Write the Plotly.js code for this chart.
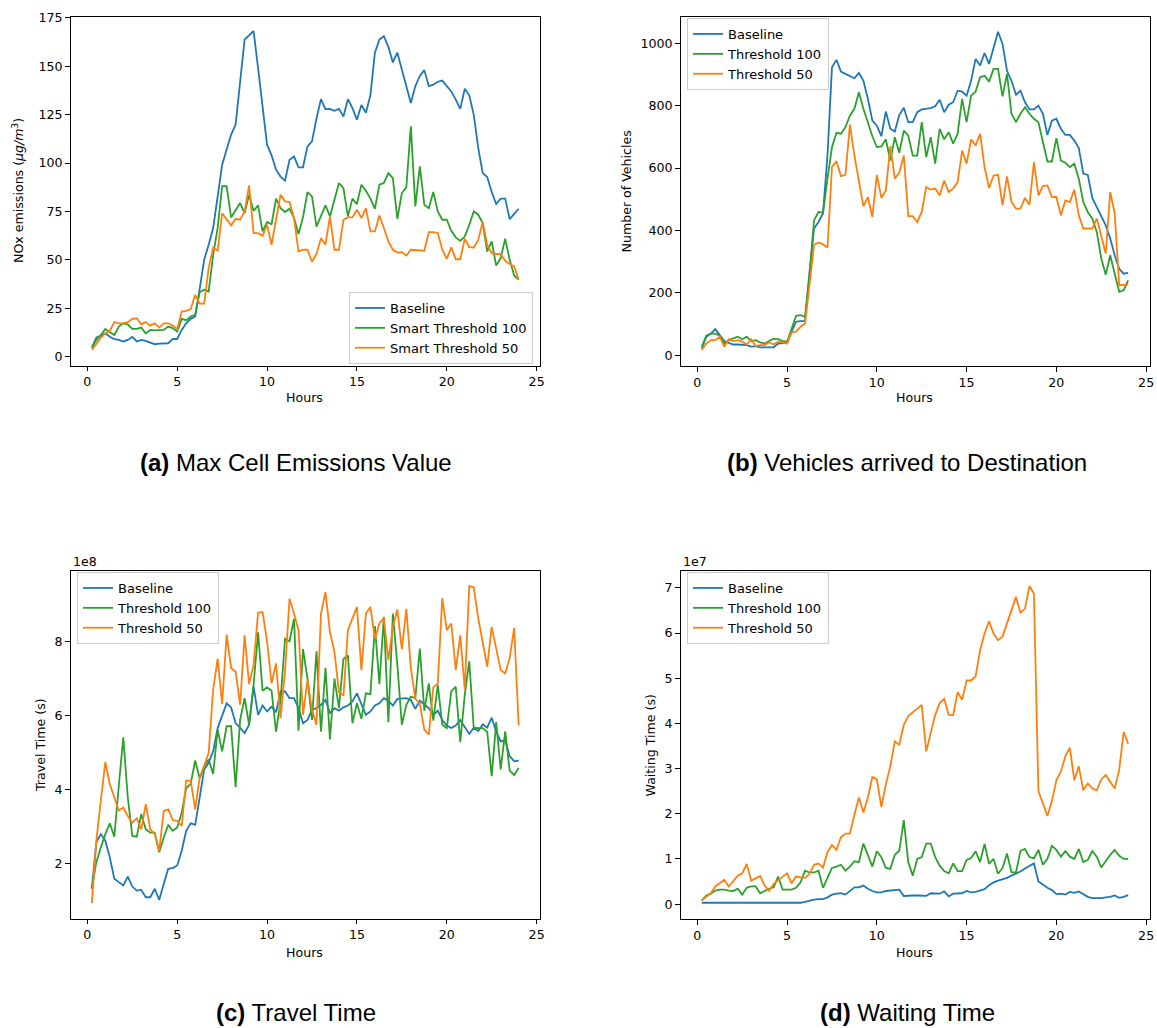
<!DOCTYPE html>
<html>
<head>
<meta charset="utf-8">
<script src="https://cdn.plot.ly/plotly-3.0.1.min.js"></script>
<style>
  html, body { margin: 0; padding: 0; background: #ffffff; }
  #chart { width: 1157px; height: 1028px; }
</style>
</head>
<body>
<div id="chart"></div>
<script>
// Sampling times (hours), every 15 minutes over one day
const hours = [
  0.25, 0.5, 0.75, 1, 1.25, 1.5, 1.75, 2,
  2.25, 2.5, 2.75, 3, 3.25, 3.5, 3.75, 4,
  4.25, 4.5, 4.75, 5, 5.25, 5.5, 5.75, 6,
  6.25, 6.5, 6.75, 7, 7.25, 7.5, 7.75, 8,
  8.25, 8.5, 8.75, 9, 9.25, 9.5, 9.75, 10,
  10.25, 10.5, 10.75, 11, 11.25, 11.5, 11.75, 12,
  12.25, 12.5, 12.75, 13, 13.25, 13.5, 13.75, 14,
  14.25, 14.5, 14.75, 15, 15.25, 15.5, 15.75, 16,
  16.25, 16.5, 16.75, 17, 17.25, 17.5, 17.75, 18,
  18.25, 18.5, 18.75, 19, 19.25, 19.5, 19.75, 20,
  20.25, 20.5, 20.75, 21, 21.25, 21.5, 21.75, 22,
  22.25, 22.5, 22.75, 23, 23.25, 23.5, 23.75, 24
];

// (a) Max cell NOx emissions (ug/m^3)
const emissionsBaseline = [
  4.7, 9.8, 10.9, 12.0, 10.3, 9.0, 8.6, 7.8,
  8.6, 10.2, 7.8, 8.6, 8.1, 7.4, 6.4, 6.7,
  6.7, 6.9, 9.1, 9.1, 13.8, 17.2, 19.5, 20.7,
  35, 50, 57.8, 66.4, 82.6, 99, 107, 114.7,
  119.8, 142, 163.8, 166, 168.2, 149, 130, 109.5,
  104, 96.6, 93, 90.9, 101.7, 103.4, 97.8, 97.8,
  108.6, 111.2, 123, 133, 127.8, 128, 127, 128,
  124, 133, 128.4, 122.4, 130, 126, 135, 157,
  163.8, 165.5, 160, 152, 157, 148, 139.7, 131,
  139.7, 145, 148, 139.7, 140.5, 142, 142.6, 139.7,
  137, 132.8, 128, 138.4, 135, 125, 107.8, 94.8,
  92.8, 85, 78.8, 81.6, 81.6, 71, 74, 76.4
];
const emissionsThr100 = [
  4.7, 8.6, 11.2, 14.3, 12.6, 11.2, 15.5, 17.2,
  16.7, 14.3, 14.3, 15, 12, 13.8, 13.6, 13.6,
  13.8, 15.5, 14.7, 12.9, 19.5, 18.8, 20.7, 21.6,
  33.3, 34.5, 33.6, 52.6, 66.4, 88, 88, 71.9,
  75.9, 79.3, 74.1, 83.6, 75.3, 78.1, 64.7, 69.5,
  68.4, 81.6, 76.7, 74.7, 76.4, 71.6, 63.3, 72,
  85, 82.8, 67.2, 72.4, 78.1, 72.4, 81, 89.7,
  87, 72.4, 81.6, 78.8, 88.8, 85.7, 81.6, 76.4,
  88.8, 89.7, 94.8, 92.2, 71.2, 84.5, 87.4, 119,
  77.6, 98.3, 78.4, 76.7, 85, 75, 70.7, 70.7,
  65, 61.6, 59.8, 62, 68, 75, 73.3, 69,
  54.3, 59.5, 47, 50.9, 60.9, 50, 41.9, 39.7
];
const emissionsThr50 = [
  3.4, 6.9, 9.8, 12, 13.3, 17.8, 17.2, 17.2,
  17.8, 19.5, 19.8, 16.7, 17.8, 16, 17.2, 15,
  17.2, 17.2, 16, 14.3, 23.3, 23.6, 24.5, 31.9,
  27.4, 27.4, 45.7, 56.4, 54.7, 74.1, 71.2, 67.8,
  71.2, 70.7, 75, 88.4, 63.8, 63.8, 62.4, 68.1,
  57.8, 69.8, 83.6, 80.2, 79.8, 71.6, 54.3, 55.2,
  55.2, 49, 53, 61.2, 57.8, 72.4, 55.2, 55.2,
  70.7, 71.9, 71.9, 75.9, 71.6, 76.7, 64.7, 64.7,
  72.9, 66.4, 59.5, 55.2, 53.8, 54, 52.2, 55.2,
  55, 54.7, 54.7, 64.3, 64.3, 63.8, 55.2, 50.5,
  56.4, 50.3, 50.3, 60.9, 56.6, 56.4, 60.3, 69.5,
  57.8, 53.4, 53, 53, 49.5, 47.8, 46.6, 39.7
];

// (b) Vehicles arrived to destination
const arrivedBaseline = [
  21, 59, 69, 83, 64, 45, 39, 34,
  34, 32, 32, 27, 29, 25, 25, 25,
  25, 37, 39, 40, 75, 107, 109, 109,
  267, 406, 427, 454, 640, 923, 947, 909,
  902, 894, 888, 905, 880, 822, 752, 736,
  702, 781, 726, 717, 770, 793, 747, 747,
  779, 788, 790, 792, 798, 819, 779, 803,
  811, 848, 845, 832, 880, 950, 929, 969,
  934, 982, 1037, 998, 912, 880, 835, 848,
  811, 788, 788, 800, 774, 706, 752, 758,
  726, 706, 706, 688, 664, 582, 578, 504,
  475, 443, 416, 374, 320, 277, 261, 264
];
const arrivedThr100 = [
  27, 62, 69, 69, 62, 37, 48, 53,
  59, 51, 59, 45, 48, 41, 37, 45,
  53, 51, 45, 43, 85, 126, 128, 123,
  256, 432, 459, 457, 566, 667, 713, 710,
  731, 768, 790, 843, 790, 745, 702, 667,
  669, 692, 624, 699, 649, 720, 704, 640,
  640, 747, 635, 699, 614, 726, 692, 715,
  678, 710, 822, 747, 832, 845, 891, 896,
  877, 918, 918, 830, 902, 774, 747, 774,
  795, 774, 758, 747, 688, 621, 621, 696,
  624, 617, 603, 614, 566, 491, 459, 438,
  395, 310, 258, 320, 261, 203, 208, 240
];
const arrivedThr50 = [
  16, 37, 48, 48, 59, 27, 51, 45,
  48, 43, 34, 51, 29, 32, 32, 41,
  34, 43, 41, 37, 73, 75, 91, 101,
  224, 354, 361, 355, 345, 603, 622, 574,
  578, 739, 640, 555, 477, 507, 443, 578,
  504, 528, 670, 566, 585, 640, 446, 446,
  427, 459, 539, 531, 534, 512, 560, 523,
  534, 555, 656, 614, 692, 672, 710, 603,
  536, 576, 578, 480, 573, 491, 470, 470,
  504, 482, 619, 512, 542, 544, 507, 507,
  448, 496, 491, 531, 448, 406, 406, 406,
  438, 384, 326, 523, 454, 224, 226, 226
];

// (c) Travel time, in units of 1e8 s
const travelBaseline = [
  1.31, 2.57, 2.79, 2.61, 2.16, 1.58, 1.49, 1.40,
  1.64, 1.37, 1.26, 1.28, 1.08, 1.08, 1.31, 1.01,
  1.44, 1.85, 1.87, 1.94, 2.34, 2.88, 3.08, 3.04,
  3.78, 4.54, 4.72, 5.03, 5.66, 6.02, 6.33, 6.22,
  5.79, 5.67, 5.52, 5.75, 6.78, 6.02, 6.27, 6.11,
  6.24, 6.09, 6.65, 6.65, 6.47, 6.47, 6.20, 5.79,
  5.88, 6.15, 6.20, 6.29, 6.42, 6.06, 6.20, 6.13,
  6.22, 6.27, 6.38, 6.60, 6.29, 6.02, 6.11, 6.27,
  6.33, 6.47, 6.40, 6.27, 6.45, 6.47, 6.47, 6.42,
  6.18, 6.40, 6.31, 6.20, 6.02, 6.13, 5.88, 5.73,
  5.66, 5.73, 5.88, 5.67, 5.50, 5.67, 5.58, 5.76,
  5.67, 5.94, 5.57, 5.30, 5.32, 4.90, 4.76, 4.78
];
const travelThr100 = [
  1.31, 2.03, 2.43, 2.79, 3.08, 2.72, 4.10, 5.41,
  3.78, 2.74, 2.72, 3.33, 2.92, 2.83, 2.83, 2.30,
  2.70, 3.04, 2.88, 2.97, 3.37, 4.03, 4.15, 4.78,
  4.30, 4.63, 4.81, 4.42, 5.62, 5.03, 5.71, 5.71,
  4.06, 5.88, 6.47, 5.75, 6.83, 8.25, 6.67, 6.76,
  6.67, 5.56, 6.40, 8.08, 8.01, 8.62, 5.59, 7.80,
  7.00, 5.88, 7.74, 5.56, 7.29, 5.35, 7.00, 6.20,
  7.53, 7.63, 5.79, 6.33, 5.91, 6.60, 6.58, 8.42,
  6.85, 8.67, 5.82, 8.76, 7.37, 5.75, 6.29, 6.51,
  6.47, 7.81, 6.13, 6.87, 5.86, 6.83, 5.75, 5.66,
  6.65, 6.78, 5.28, 6.56, 7.47, 5.67, 5.66, 5.66,
  5.56, 4.36, 5.82, 4.54, 5.57, 4.51, 4.39, 4.58
];
const travelThr50 = [
  0.92, 2.60, 3.70, 4.74, 4.14, 3.78, 3.43, 3.51,
  3.28, 3.10, 3.22, 2.92, 3.60, 2.92, 2.79, 2.34,
  3.42, 3.46, 3.17, 3.15, 3.01, 4.24, 4.24, 3.46,
  4.32, 4.63, 4.99, 6.69, 7.54, 6.31, 8.19, 7.28,
  7.19, 6.29, 8.17, 6.85, 7.37, 8.78, 8.80, 8.01,
  6.87, 7.41, 5.93, 7.20, 9.16, 8.76, 8.31, 6.02,
  6.96, 6.15, 5.75, 8.76, 9.34, 8.26, 7.72, 6.63,
  6.54, 8.31, 8.64, 8.94, 7.23, 8.76, 8.94, 8.08,
  8.49, 8.64, 7.50, 8.40, 8.87, 7.79, 8.89, 7.28,
  6.45, 6.33, 5.62, 5.48, 6.76, 6.87, 9.18, 8.31,
  8.49, 7.23, 8.17, 6.72, 9.50, 9.47, 8.64, 7.97,
  7.32, 8.40, 7.86, 7.23, 7.14, 7.56, 8.37, 5.73
];

// (d) Waiting time, in units of 1e7 s
const waitingBaseline = [
  0.03, 0.03, 0.03, 0.03, 0.03, 0.02, 0.02, 0.02,
  0.02, 0.02, 0.02, 0.02, 0.02, 0.02, 0.02, 0.02,
  0.02, 0.02, 0.02, 0.02, 0.03, 0.03, 0.03, 0.05,
  0.08, 0.10, 0.11, 0.11, 0.15, 0.21, 0.23, 0.24,
  0.21, 0.29, 0.37, 0.37, 0.41, 0.34, 0.29, 0.26,
  0.26, 0.29, 0.30, 0.32, 0.32, 0.18, 0.19, 0.19,
  0.19, 0.18, 0.18, 0.24, 0.23, 0.23, 0.28, 0.17,
  0.23, 0.24, 0.24, 0.29, 0.26, 0.27, 0.30, 0.33,
  0.42, 0.48, 0.52, 0.55, 0.58, 0.63, 0.67, 0.72,
  0.79, 0.85, 0.90, 0.50, 0.42, 0.36, 0.31, 0.22,
  0.23, 0.21, 0.27, 0.25, 0.28, 0.22, 0.16, 0.13,
  0.13, 0.13, 0.15, 0.16, 0.19, 0.14, 0.16, 0.20
];
const waitingThr100 = [
  0.08, 0.19, 0.23, 0.30, 0.32, 0.32, 0.30, 0.29,
  0.34, 0.21, 0.36, 0.39, 0.39, 0.24, 0.29, 0.34,
  0.37, 0.61, 0.32, 0.32, 0.32, 0.36, 0.48, 0.74,
  0.70, 0.70, 0.74, 0.36, 0.59, 0.80, 0.83, 0.87,
  0.74, 0.83, 0.95, 0.93, 1.34, 1.07, 0.83, 1.17,
  1.04, 0.80, 0.78, 1.09, 1.18, 1.86, 0.93, 0.63,
  1.00, 1.04, 1.34, 1.34, 1.04, 0.85, 0.73, 0.68,
  0.90, 0.73, 0.73, 0.98, 1.02, 1.17, 0.93, 1.33,
  0.89, 1.00, 0.67, 0.80, 1.12, 0.70, 0.70, 1.18,
  1.22, 1.04, 1.01, 1.20, 0.87, 1.00, 1.29, 1.20,
  1.05, 1.17, 1.05, 1.00, 1.22, 0.93, 0.98, 1.17,
  1.05, 0.81, 0.96, 1.09, 1.20, 1.07, 1.00, 1.00
];
const waitingThr50 = [
  0.08, 0.17, 0.24, 0.39, 0.46, 0.54, 0.39, 0.51,
  0.63, 0.68, 0.89, 0.52, 0.57, 0.62, 0.41, 0.29,
  0.45, 0.52, 0.59, 0.68, 0.46, 0.61, 0.59, 0.58,
  0.67, 0.87, 0.90, 0.81, 1.15, 1.31, 1.20, 1.48,
  1.56, 1.56, 1.98, 2.36, 2.03, 2.36, 2.81, 2.76,
  2.15, 2.65, 3.05, 3.60, 3.53, 3.97, 4.16, 4.25,
  4.33, 4.41, 3.38, 3.79, 4.19, 4.45, 4.54, 4.19,
  4.18, 4.69, 4.52, 4.95, 4.95, 5.04, 5.62, 5.99,
  6.26, 5.99, 5.84, 5.92, 6.21, 6.51, 6.80, 6.45,
  6.54, 7.04, 6.87, 2.50, 2.20, 1.95, 2.28, 2.74,
  2.93, 3.27, 3.46, 2.74, 3.05, 2.52, 2.67, 2.56,
  2.52, 2.76, 2.86, 2.71, 2.56, 2.98, 3.81, 3.55
];

const seriesNamesA = ['Baseline', 'Smart Threshold 100', 'Smart Threshold 50'];
const seriesNames = ['Baseline', 'Threshold 100', 'Threshold 50'];
const captions = [
  '<b>(a)</b> Max Cell Emissions Value',
  '<b>(b)</b> Vehicles arrived to Destination',
  '<b>(c)</b> Travel Time',
  '<b>(d)</b> Waiting Time'
];

const COLORS = ['#1f77b4', '#2ca02c', '#ff7f0e'];
const W = 1157, H = 1028;
const TICK_FONT = { family: 'DejaVu Sans', size: 12.6, color: '#000000' };
const LEGEND_FONT = { family: 'DejaVu Sans', size: 13, color: '#000000' };

// pixel box -> paper fractions
const xd = (l, r) => [l / W, r / W];
const yd = (top, bottom) => [1 - bottom / H, 1 - top / H];

function makeTraces(ys, names, axisSuffix, legendId) {
  return ys.map((y, i) => ({
    type: 'scatter',
    mode: 'lines',
    x: hours,
    y: y,
    name: names[i],
    line: { color: COLORS[i], width: 1.8 },
    xaxis: 'x' + axisSuffix,
    yaxis: 'y' + axisSuffix,
    legend: legendId,
    hoverinfo: 'x+y+name'
  }));
}

const traces = [
  ...makeTraces([emissionsBaseline, emissionsThr100, emissionsThr50], seriesNamesA, '', 'legend'),
  ...makeTraces([arrivedBaseline, arrivedThr100, arrivedThr50], seriesNames, '2', 'legend2'),
  ...makeTraces([travelBaseline, travelThr100, travelThr50], seriesNames, '3', 'legend3'),
  ...makeTraces([waitingBaseline, waitingThr100, waitingThr50], seriesNames, '4', 'legend4')
];

const axisStyle = {
  showline: true,
  mirror: true,
  linecolor: '#000000',
  linewidth: 1,
  ticks: 'outside',
  ticklen: 4.5,
  tickwidth: 1,
  tickcolor: '#000000',
  showgrid: false,
  zeroline: false,
  tickfont: TICK_FONT,
  fixedrange: true
};

const hourAxis = (domain, anchor) => Object.assign({}, axisStyle, {
  domain: domain,
  anchor: anchor,
  range: [-0.9375, 25.1875],
  tickmode: 'array',
  tickvals: [0, 5, 10, 15, 20, 25]
});

const legendStyle = (x, y, xanchor, yanchor) => ({
  x: x, y: y, xanchor: xanchor, yanchor: yanchor,
  bgcolor: 'rgba(255,255,255,0.8)',
  bordercolor: '#cccccc',
  borderwidth: 1,
  font: LEGEND_FONT,
  tracegroupgap: 0
});

const LEFT = xd(70.5, 540), RIGHT = xd(680.5, 1149.5);

function textNote(text, px, py, opts) {
  return Object.assign({
    text: text, xref: 'paper', yref: 'paper',
    x: px / W, y: 1 - py / H,
    showarrow: false,
    xanchor: 'center', yanchor: 'middle',
    font: TICK_FONT
  }, opts || {});
}

const CAPTION_FONT = { family: 'Liberation Sans', size: 24, color: '#000000' };
const bottomCaption = { font: CAPTION_FONT, yanchor: 'bottom', borderpad: 0 };

const annotations = [
  // axis titles
  textNote('Hours', 305, 398),
  textNote('Hours', 914, 398),
  textNote('Hours', 305, 952),
  textNote('Hours', 914, 952),
  textNote('NOx emissions (<i>μg/m</i><sup>3</sup>)', 18, 191, { textangle: -90 }),
  textNote('Number of Vehicles', 625.5, 191, { textangle: -90 }),
  textNote('Travel Time (s)', 40, 745, { textangle: -90 }),
  textNote('Waiting Time (s)', 649.5, 745, { textangle: -90 }),
  // scale factors
  textNote('1e8', 70.5, 561, { xanchor: 'left' }),
  textNote('1e7', 680.5, 561, { xanchor: 'left' }),
  // panel captions
  textNote(captions[0], 296, 463, { font: CAPTION_FONT }),
  textNote(captions[1], 907, 463, { font: CAPTION_FONT }),
  textNote(captions[2], 296, 1027, bottomCaption),
  textNote(captions[3], 907, 1027, bottomCaption)
];

const layout = {
  width: W,
  height: H,
  margin: { l: 0, r: 0, t: 0, b: 0, pad: 0 },
  paper_bgcolor: '#ffffff',
  plot_bgcolor: '#ffffff',
  font: TICK_FONT,
  showlegend: true,

  xaxis: hourAxis(LEFT, 'y'),
  yaxis: Object.assign({}, axisStyle, {
    domain: yd(16.7, 365.7), anchor: 'x',
    range: [-4.7, 175.6], tickmode: 'array',
    tickvals: [0, 25, 50, 75, 100, 125, 150, 175]
  }),

  xaxis2: hourAxis(RIGHT, 'y2'),
  yaxis2: Object.assign({}, axisStyle, {
    domain: yd(16.5, 366), anchor: 'x2',
    range: [-35, 1086], tickmode: 'array',
    tickvals: [0, 200, 400, 600, 800, 1000]
  }),

  xaxis3: hourAxis(LEFT, 'y3'),
  yaxis3: Object.assign({}, axisStyle, {
    domain: yd(570.7, 918.7), anchor: 'x3',
    range: [0.5, 9.92], tickmode: 'array',
    tickvals: [2, 4, 6, 8]
  }),

  xaxis4: hourAxis(RIGHT, 'y4'),
  yaxis4: Object.assign({}, axisStyle, {
    domain: yd(570.7, 919), anchor: 'x4',
    range: [-0.33, 7.38], tickmode: 'array',
    tickvals: [0, 1, 2, 3, 4, 5, 6, 7]
  }),

  legend: legendStyle(533 / W, 1 - 364 / H, 'right', 'bottom'),
  legend2: legendStyle(687 / W, 1 - 18 / H, 'left', 'top'),
  legend3: legendStyle(77 / W, 1 - 572 / H, 'left', 'top'),
  legend4: legendStyle(687 / W, 1 - 572 / H, 'left', 'top'),

  annotations: annotations
};

Plotly.newPlot('chart', traces, layout, { displayModeBar: false, staticPlot: true });
</script>
</body>
</html>
